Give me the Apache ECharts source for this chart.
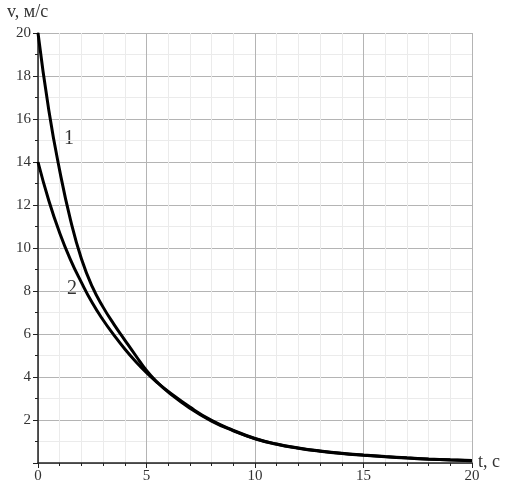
<!DOCTYPE html>
<html>
<head>
<meta charset="utf-8">
<script src="https://cdn.jsdelivr.net/npm/echarts@6/dist/echarts.min.js"></script>
<style>
html,body{margin:0;padding:0;background:#fff;}
#main{width:510px;height:490px;}
</style>
</head>
<body>
<div id="main"></div>
<script>
// кривая 1: t, v
var t1 = [0, 0.5, 1, 1.5, 2, 2.5, 3, 3.5, 4, 4.5, 5, 5.5, 6, 7, 8, 9, 10, 11, 12, 13, 14, 15, 16, 17, 18, 19, 20];
var v1 = [20, 16.4, 13.6, 11.3, 9.5, 8.2, 7.25, 6.45, 5.72, 5.0, 4.3, 3.75, 3.3, 2.55, 1.95, 1.5, 1.13, 0.87, 0.69, 0.55, 0.44, 0.36, 0.29, 0.23, 0.18, 0.14, 0.11];
// кривая 2
var t2 = [0, 0.5, 1, 1.5, 2, 2.5, 3, 3.5, 4, 4.5, 5, 5.5, 6, 7, 8, 9, 10, 11, 12, 13, 14, 15, 16, 17, 18, 19, 20];
var v2 = [14, 12.2, 10.7, 9.45, 8.4, 7.45, 6.65, 5.95, 5.3, 4.72, 4.2, 3.74, 3.33, 2.6, 1.98, 1.52, 1.14, 0.88, 0.7, 0.56, 0.45, 0.37, 0.3, 0.24, 0.19, 0.15, 0.12];
var xTicks = [0, 5, 10, 15, 20];
var yTicks = [2, 4, 6, 8, 10, 12, 14, 16, 18, 20];

function pairs(xs, ys){
    var out = [];
    for(var i=0;i<xs.length;i++){
        out.push([xs[i], ys[i]]);
    }
    return out;
}

var font = 'Liberation Serif';
var chart = echarts.init(document.getElementById('main'));

var option = {
    backgroundColor: '#fff',
    animation: false,
    grid: {left: 38, right: 38, top: 33, bottom: 27},
    xAxis: {
        type: 'value', min: 0, max: 20, interval: 5,
        axisLine: {show: true, onZero: false, lineStyle: {color: '#222', width: 1.5}},
        axisTick: {show: true, inside: false, length: 5, lineStyle: {color: '#222'}},
        minorTick: {show: true, splitNumber: 5, length: 3, lineStyle: {color: '#222'}},
        splitLine: {show: true, lineStyle: {color: '#b4b4b4', width: 1}},
        minorSplitLine: {show: true, lineStyle: {color: '#ebebeb', width: 1}},
        axisLabel: {
            color: '#333', fontFamily: font, fontSize: 15, margin: 6,
            formatter: function(v){ return xTicks.indexOf(v) >= 0 ? String(v) : ''; }
        }
    },
    yAxis: {
        type: 'value', min: 0, max: 20, interval: 2,
        axisLine: {show: true, onZero: false, lineStyle: {color: '#222', width: 1.5}},
        axisTick: {show: true, inside: false, length: 5, lineStyle: {color: '#222'}},
        minorTick: {show: true, splitNumber: 2, length: 3, lineStyle: {color: '#222'}},
        splitLine: {show: true, lineStyle: {color: '#b4b4b4', width: 1}},
        minorSplitLine: {show: true, lineStyle: {color: '#ebebeb', width: 1}},
        axisLabel: {
            color: '#333', fontFamily: font, fontSize: 15, margin: 7,
            formatter: function(v){ return yTicks.indexOf(v) >= 0 ? String(v) : ''; }
        }
    },
    series: [
        {type: 'line', data: pairs(t1, v1), smooth: 0.5, showSymbol: false,
         lineStyle: {color: '#000', width: 3}},
        {type: 'line', data: pairs(t2, v2), smooth: 0.5, showSymbol: false,
         lineStyle: {color: '#000', width: 3}}
    ],
    graphic: [
        {type: 'text', left: 7, top: 3, style: {text: 'v, м/с', fontFamily: font, fontSize: 18, fill: '#333'}},
        {type: 'text', left: 478, top: 453, style: {text: 't, с', fontFamily: font, fontSize: 18, fill: '#333'}},
        {type: 'text', left: 64, top: 129, style: {text: '1', fontFamily: font, fontSize: 20, fill: '#333'}},
        {type: 'text', left: 67, top: 279, style: {text: '2', fontFamily: font, fontSize: 20, fill: '#333'}}
    ]
};
chart.setOption(option);
</script>
</body>
</html>
